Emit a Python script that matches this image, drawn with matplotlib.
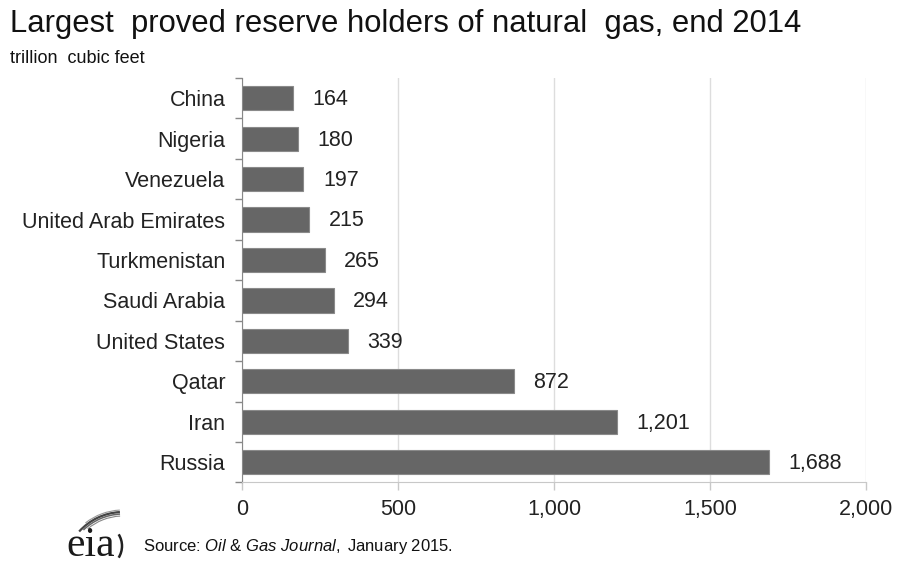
import numpy as np
import matplotlib
matplotlib.use("Agg")
import matplotlib.pyplot as plt
from matplotlib.patches import Arc

plt.rcParams['font.family'] = ['Liberation Sans', 'DejaVu Sans']
plt.rcParams['mathtext.fontset'] = 'custom'
plt.rcParams['mathtext.rm'] = 'Liberation Sans'
plt.rcParams['mathtext.it'] = 'Liberation Sans:italic'

# proved reserves, trillion cubic feet (top to bottom)
countries = ['China', 'Nigeria', 'Venezuela', 'United Arab Emirates', 'Turkmenistan',
             'Saudi Arabia', 'United States', 'Qatar', 'Iran', 'Russia']
reserves = [164, 180, 197, 215, 265, 294, 339, 872, 1201, 1688]
xticks = [0, 500, 1000, 1500, 2000]

W, H = 897, 561
fig = plt.figure(figsize=(W / 100, H / 100), dpi=100)
ax = fig.add_axes([0.2698, 0.140, 0.6956, 0.721])

pos = np.arange(len(countries))
ax.barh(pos, reserves, height=0.6, color='#666666', edgecolor='#8a8a8a', linewidth=0.8, zorder=3)
ax.set_ylim(len(countries) - 0.5, -0.5)
ax.set_xlim(0, 2000)

for p, v in zip(pos, reserves):
    ax.annotate(f'{v:,}', (v, p), xytext=(14, -1), textcoords='offset points',
                va='center', ha='left', fontsize=15.5, color='#222222')

ax.set_yticks(pos)
ax.set_yticklabels(countries, fontsize=15.5, color='#222222')
ax.set_yticks(np.arange(len(countries) + 1) - 0.5, minor=True)
ax.tick_params(axis='y', which='major', length=0, pad=12)
ax.tick_params(axis='y', which='minor', length=5, color='#888888', width=1)

ax.set_xticks(xticks)
ax.set_xticklabels([f'{t:,}' for t in xticks], fontsize=15.5, color='#222222')
ax.tick_params(axis='x', length=6, color='#c8c8c8', width=1, pad=6)

ax.grid(axis='x', color='#dddddd', linewidth=1, zorder=0)
for s in ['top', 'right']:
    ax.spines[s].set_visible(False)
ax.spines['left'].set_color('#888888')
ax.spines['bottom'].set_color('#c8c8c8')

fig.text(0.011, 0.958, 'Largest  proved reserve holders of natural  gas, end 2014',
         fontsize=22.3, color='#111111', va='center', ha='left')
fig.text(0.011, 0.895, 'trillion  cubic feet', fontsize=13, color='#111111', va='center', ha='left')

# eia logo: swoosh drawn in pixel units (y runs downward)
lx0, lx1, ly0, ly1 = 55, 135, 505, 561
lax = fig.add_axes([lx0 / W, 1 - ly1 / H, (lx1 - lx0) / W, (ly1 - ly0) / H])
lax.set_xlim(lx0, lx1)
lax.set_ylim(ly1, ly0)
lax.axis('off')
for r, lw, col, t1 in [(59, 1.6, '#444444', 222), (57, 1.1, '#666666', 226),
                       (55, 0.8, '#888888', 230), (61, 0.8, '#999999', 232)]:
    lax.add_patch(Arc((123, 571), 2 * r, 2 * r, theta1=t1, theta2=267,
                      color=col, lw=lw, clip_on=False))
lax.add_patch(Arc((100, 546), 44, 44, theta1=-32, theta2=32, color='#222222', lw=1.8,
                  clip_on=False))
fig.text(66 / W, 1 - 556 / H, 'eia', family=['Liberation Serif', 'DejaVu Serif'],
         fontsize=30, color='#1a1a1a', va='baseline', ha='left')

fig.text(0.159, 0.025, 'Source: $\\mathit{Oil\\ &\\ Gas\\ Journal,}$ January 2015.',
         fontsize=12, color='#111111', va='center', ha='left')

fig.savefig('out.png', dpi=100)
